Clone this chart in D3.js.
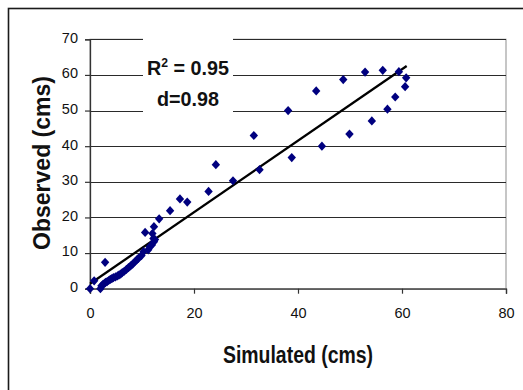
<!DOCTYPE html>
<html>
<head>
<meta charset="utf-8">
<script src="https://cdn.jsdelivr.net/npm/d3@7"></script>
<style>
  html, body { margin: 0; padding: 0; background: #fff; }
  svg { display: block; }
  text { font-family: "Liberation Sans", Arial, sans-serif; }
</style>
</head>
<body>
<svg id="chart" width="523" height="390"></svg>
<script>
// ---- data ----
const simulated = [0, 0.8, 2.0, 2.9, 2.2, 2.5, 2.8, 3.0, 3.3, 3.6, 3.9, 4.2, 4.5, 4.9, 5.3, 5.6, 5.9, 6.2, 6.6, 7.0, 7.4, 7.8, 8.2, 8.6, 9.0, 9.3, 9.9, 10.3, 11.2, 11.5, 11.9, 12.2, 12.3, 12.5, 12.0, 12.3, 10.6, 13.3, 15.4, 17.3, 18.7, 22.8, 24.2, 27.5, 31.5, 32.6, 38.1, 38.8, 43.5, 44.6, 48.7, 49.9, 52.9, 54.2, 56.3, 57.2, 58.7, 59.4, 60.6, 60.8];
const observed  = [0, 2.2, 0.0, 7.4, 0.8, 1.2, 1.5, 1.8, 2.0, 2.3, 2.6, 2.8, 3.1, 3.3, 3.6, 3.9, 4.1, 4.5, 4.9, 5.4, 5.9, 6.4, 6.9, 7.5, 8.1, 8.5, 9.3, 10.4, 10.9, 11.8, 12.3, 14.1, 13.2, 13.8, 15.5, 17.4, 15.8, 19.6, 21.9, 25.2, 24.3, 27.3, 34.8, 30.3, 43.0, 33.4, 50.0, 36.8, 55.5, 40.0, 58.7, 43.4, 60.8, 47.1, 61.3, 50.4, 53.8, 60.9, 56.7, 59.2];
const trendX = [0, 60.9];
const trendY = [1.4, 62.5];
const xTicks = [0, 20, 40, 60, 80];
const yTicks = [0, 10, 20, 30, 40, 50, 60, 70];
const statLines = ["R", "d=0.98"];
const xTitle = "Simulated (cms)";
const yTitle = "Observed (cms)";

const svg = d3.select("#chart");

// outer chart frame (extends beyond the window at right/bottom)
svg.append("rect")
  .attr("x", 8.5).attr("y", 8.5).attr("width", 600).attr("height", 500)
  .attr("fill", "#fff").attr("stroke", "#1a1a1a").attr("stroke-width", 1.6);

const x = d3.scaleLinear().domain([0, 80]).range([90, 506]);
const y = d3.scaleLinear().domain([0, 70]).range([288.7, 39.3]);

// plot area frame (grey)
svg.append("rect")
  .attr("x", x(0)).attr("y", y(70))
  .attr("width", x(80) - x(0)).attr("height", y(0) - y(70))
  .attr("fill", "#fff").attr("stroke", "#a0a0a0").attr("stroke-width", 1.2);

// gridlines
svg.append("g").selectAll("line")
  .data(yTicks.filter(d => d > 0))
  .join("line")
  .attr("x1", x(0)).attr("x2", x(80))
  .attr("y1", d => Math.round(y(d)) + 0.5).attr("y2", d => Math.round(y(d)) + 0.5)
  .attr("stroke", "#2a2a2a").attr("stroke-width", 1);

// axes
const yAxis = svg.append("g")
  .attr("transform", `translate(${x(0)},0)`)
  .call(d3.axisLeft(y).tickValues(yTicks).tickSize(5).tickPadding(7).tickFormat(d3.format("d")));
const xAxis = svg.append("g")
  .attr("transform", `translate(0,${y(0)})`)
  .call(d3.axisBottom(x).tickValues(xTicks).tickSize(5).tickPadding(14).tickFormat(d3.format("d")));

[xAxis, yAxis].forEach(g => {
  g.select(".domain").attr("stroke", "#333").attr("stroke-width", 1.3);
  g.selectAll(".tick line").attr("stroke", "#333").attr("stroke-width", 1.2);
  g.selectAll(".tick text")
    .attr("fill", "#111")
    .style("font-family", "'Liberation Sans', Arial, sans-serif")
    .style("font-size", "14.5px");
});
yAxis.selectAll(".tick text").attr("dy", "0.2em");

// trendline
svg.append("line")
  .attr("x1", x(trendX[0])).attr("y1", y(trendY[0]))
  .attr("x2", x(trendX[1])).attr("y2", y(trendY[1]))
  .attr("stroke", "#000").attr("stroke-width", 2.3);

// points
const pts = simulated.map((s, i) => ({ s, o: observed[i] }));
svg.append("g").selectAll("path")
  .data(pts)
  .join("path")
  .attr("transform", d => `translate(${x(d.s)},${y(d.o)})`)
  .attr("d", "M0,-4.6L4.2,0L0,4.6L-4.2,0Z")
  .attr("fill", "#00007f");

// statistics box
svg.append("rect")
  .attr("x", 143).attr("y", 37).attr("width", 90).attr("height", 76)
  .attr("fill", "#fff");

const t1 = svg.append("text")
  .attr("x", 147).attr("y", 74.5)
  .attr("font-weight", "bold").attr("font-size", "19.5px").attr("fill", "#111")
  .attr("textLength", 82).attr("lengthAdjust", "spacingAndGlyphs");
t1.append("tspan").text(statLines[0]);
t1.append("tspan").attr("dy", -8).attr("font-size", "12px").text("2");
t1.append("tspan").attr("dy", 8).text(" = 0.95");

svg.append("text")
  .attr("x", 157).attr("y", 105.5)
  .attr("font-weight", "bold").attr("font-size", "19.5px").attr("fill", "#111")
  .attr("textLength", 62).attr("lengthAdjust", "spacingAndGlyphs")
  .text(statLines[1]);

// axis titles
svg.append("text")
  .attr("x", 223).attr("y", 362.5)
  .attr("font-weight", "bold").attr("font-size", "23px").attr("fill", "#111")
  .attr("textLength", 150).attr("lengthAdjust", "spacingAndGlyphs")
  .text(xTitle);

svg.append("text")
  .attr("transform", "translate(50,250) rotate(-90)")
  .attr("x", 0).attr("y", 0)
  .attr("font-weight", "bold").attr("font-size", "24.5px").attr("fill", "#111")
  .attr("textLength", 174).attr("lengthAdjust", "spacingAndGlyphs")
  .text(yTitle);
</script>
</body>
</html>
